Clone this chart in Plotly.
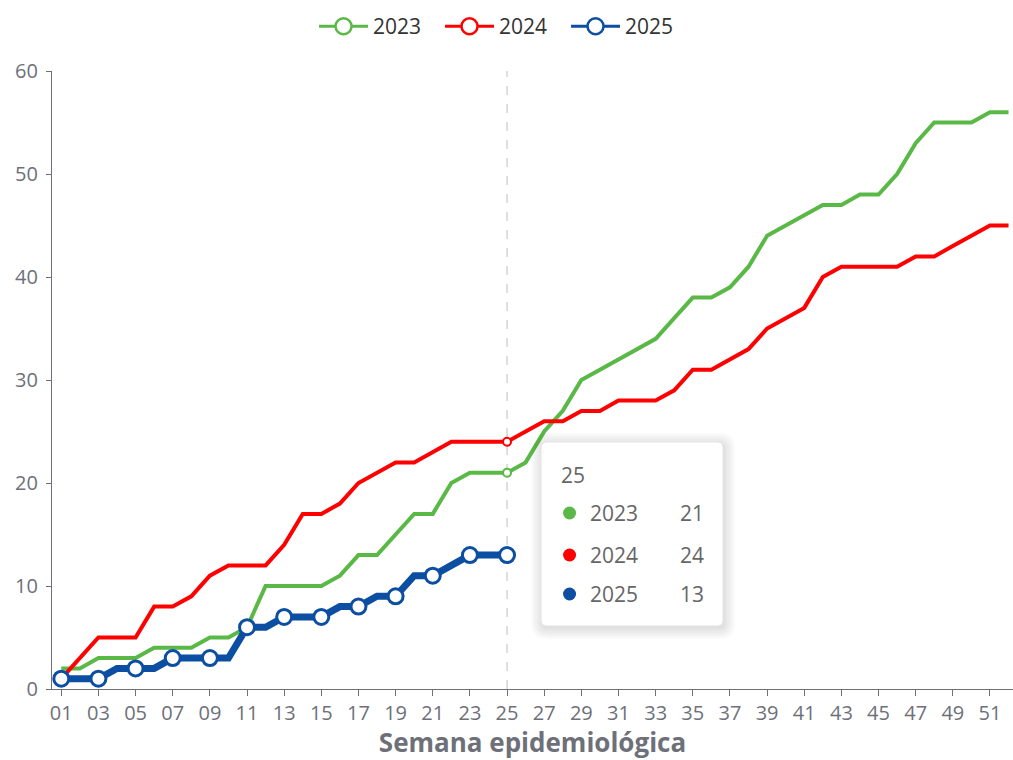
import plotly.graph_objects as go

weeks = [f"{i:02d}" for i in range(1, 53)]
tick_labels = weeks[::2]

s2023 = [2, 2, 3, 3, 3, 4, 4, 4, 5, 5,
         6, 10, 10, 10, 10, 11, 13, 13, 15, 17,
         17, 20, 21, 21, 21, 22, 25, 27, 30, 31,
         32, 33, 34, 36, 38, 38, 39, 41, 44, 45,
         46, 47, 47, 48, 48, 50, 53, 55, 55, 55, 56, 56]
s2024 = [1, 3, 5, 5, 5, 8, 8, 9, 11, 12,
         12, 12, 14, 17, 17, 18, 20, 21, 22, 22,
         23, 24, 24, 24, 24, 25, 26, 26, 27, 27,
         28, 28, 28, 29, 31, 31, 32, 33, 35, 36,
         37, 40, 41, 41, 41, 41, 42, 42, 43, 44, 45, 45]
s2025 = [1, 1, 1, 2, 2, 2, 3, 3, 3, 3,
         6, 6, 7, 7, 7, 8, 8, 9, 9, 11,
         11, 12, 13, 13, 13]

series_names = ["2023", "2024", "2025"]
series_data = [s2023, s2024, s2025]
colors = ["#5ab946", "#ff0000", "#0b4ea2"]
focus_week = "25"

FONT = "Open Sans, Noto Sans, sans-serif"
AXIS_GRAY = "#6e7079"

fig = go.Figure()

for name, data, col in zip(series_names[:2], series_data[:2], colors[:2]):
    fig.add_trace(go.Scatter(x=weeks[:len(data)], y=data, mode="lines",
                             line=dict(color=col, width=4), showlegend=False,
                             hoverinfo="skip"))

fig.add_trace(go.Scatter(x=weeks[:len(s2025)], y=s2025, mode="lines",
                         line=dict(color=colors[2], width=7), showlegend=False,
                         hoverinfo="skip"))
fig.add_trace(go.Scatter(x=weeks[:len(s2025)][::2], y=s2025[::2], mode="markers",
                         marker=dict(symbol="circle", size=15, color="white",
                                     line=dict(color=colors[2], width=3)),
                         showlegend=False, hoverinfo="skip"))

fi = weeks.index(focus_week)
for data, col in zip(series_data[:2], colors[:2]):
    fig.add_trace(go.Scatter(x=[focus_week], y=[data[fi]], mode="markers",
                             marker=dict(symbol="circle", size=8, color="white",
                                         line=dict(color=col, width=2)),
                             showlegend=False, hoverinfo="skip"))

for name, col in zip(series_names, colors):
    fig.add_trace(go.Scatter(x=[None], y=[None], mode="lines+markers", name=name,
                             line=dict(color=col, width=3),
                             marker=dict(symbol="circle", size=16, color="white",
                                         line=dict(color=col, width=2.5))))

shapes = []
shapes.append(dict(type="line", xref="x", yref="paper", x0=fi, x1=fi, y0=0, y1=1,
                   line=dict(color="#c8c8d0", width=1.2, dash="dash"), layer="below"))


def rrect(x0, y0, x1, y1, r):
    return (f"M{x0+r},{y0} L{x1-r},{y0} Q{x1},{y0} {x1},{y0+r} "
            f"L{x1},{y1-r} Q{x1},{y1} {x1-r},{y1} L{x0+r},{y1} Q{x0},{y1} {x0},{y1-r} "
            f"L{x0},{y0+r} Q{x0},{y0} {x0+r},{y0} Z")


bx0, bx1, by0, by1 = 35, 215, 64, 246
for k in range(6, 0, -1):
    e = k * 2
    shapes.append(dict(type="path", xref="x", yref="y", xsizemode="pixel", ysizemode="pixel",
                       xanchor=fi, yanchor=0,
                       path=rrect(bx0 - e + 1, by0 - e - 2, bx1 + e + 1, by1 + e - 2, 4 + e),
                       fillcolor="rgba(0,0,0,0.02)", line=dict(width=0), layer="above"))
shapes.append(dict(type="path", xref="x", yref="y", xsizemode="pixel", ysizemode="pixel",
                   xanchor=fi, yanchor=0, path=rrect(bx0, by0, bx1, by1, 4),
                   fillcolor="white", line=dict(color="#ffffff", width=1), layer="above"))

TT = 21
annotations = []
annotations.append(dict(x=fi, y=0, xref="x", yref="y", xshift=52, yshift=214,
                        text=focus_week, showarrow=False, xanchor="left", yanchor="middle",
                        font=dict(family=FONT, size=TT, color="#666666")))
row_y = [176, 134, 95]
for name, data, col, ry in zip(series_names, series_data, colors, row_y):
    shapes.append(dict(type="circle", xref="x", yref="y", xsizemode="pixel", ysizemode="pixel",
                       xanchor=fi, yanchor=0, x0=56, x1=69, y0=ry - 6.5, y1=ry + 6.5,
                       fillcolor=col, line=dict(width=0), layer="above"))
    annotations.append(dict(x=fi, y=0, xref="x", yref="y", xshift=81, yshift=ry,
                            text=name, showarrow=False, xanchor="left", yanchor="middle",
                            font=dict(family=FONT, size=TT, color="#666666")))
    annotations.append(dict(x=fi, y=0, xref="x", yref="y", xshift=199, yshift=ry,
                            text=str(data[fi]), showarrow=False, xanchor="right", yanchor="middle",
                            font=dict(family=FONT, size=TT, color="#666666")))

fig.update_layout(
    width=1013, height=760,
    margin=dict(l=52, r=0, t=71, b=71),
    paper_bgcolor="white", plot_bgcolor="white",
    hovermode=False,
    shapes=shapes, annotations=annotations,
    legend=dict(orientation="h", xref="container", yref="container",
                x=0.31, xanchor="left", y=0.965, yanchor="middle",
                font=dict(family=FONT, size=21, color="#333333"),
                itemwidth=49, entrywidth=62, entrywidthmode="pixels"),
    xaxis=dict(type="category", categoryorder="array", categoryarray=weeks,
               range=[-0.5, 51.24], tickmode="array", tickvals=tick_labels, ticktext=tick_labels,
               showline=True, linecolor=AXIS_GRAY, linewidth=1.2,
               ticks="outside", ticklen=6, tickcolor=AXIS_GRAY,
               tickfont=dict(family=FONT, size=20, color=AXIS_GRAY),
               showgrid=False, zeroline=False,
               title=dict(text="<b>Semana epidemiológica</b>", standoff=13,
                          font=dict(family=FONT, size=26, color=AXIS_GRAY))),
    yaxis=dict(range=[0, 60], tickvals=[0, 10, 20, 30, 40, 50, 60],
               showline=True, linecolor=AXIS_GRAY, linewidth=1.2,
               ticks="outside", ticklen=5, tickcolor=AXIS_GRAY, ticklabelstandoff=4,
               tickfont=dict(family=FONT, size=20, color=AXIS_GRAY),
               showgrid=False, zeroline=False),
)

fig.write_html("out.html", config={"displayModeBar": False},
               post_script="document.body.style.margin='0';document.body.style.padding='0';")
